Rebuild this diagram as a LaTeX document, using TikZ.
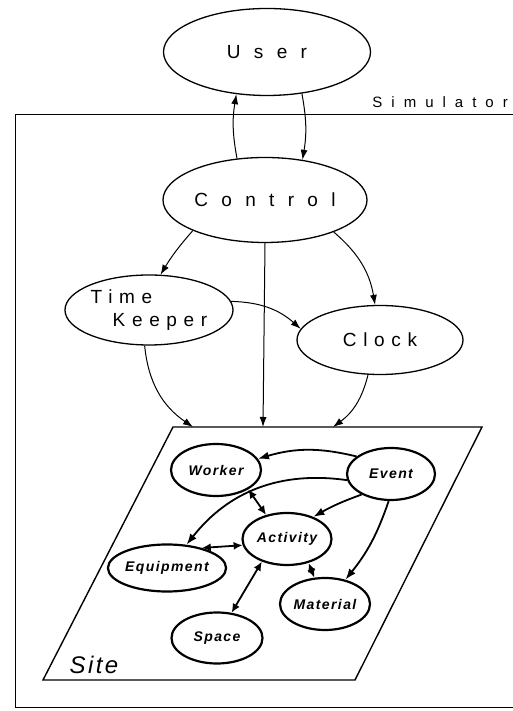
\documentclass[tikz,border=0pt]{standalone}
\usepackage{fontspec}
\setmainfont{Liberation Sans}
\newfontfamily\widefont[LetterSpace=70]{Liberation Sans}
\newfontfamily\plainfont[LetterSpace=35]{Liberation Sans}
\newfontfamily\simfont[LetterSpace=60]{Liberation Sans}
\newfontfamily\partfont[LetterSpace=10]{Liberation Sans}
\usetikzlibrary{shapes.geometric,arrows.meta}
\begin{document}
\begin{tikzpicture}[x=1pt,y=1pt,
	big/.style={shape=ellipse,draw,line width=1.3pt,inner sep=0pt,font=\fontsize{19}{23}\selectfont},
	part/.style={shape=ellipse,draw,line width=2.2pt,inner sep=0pt,minimum width=90pt,minimum height=52pt,font=\partfont\fontsize{14}{16}\selectfont\bfseries\itshape},
	link/.style={-{Latex[length=10pt,width=7pt]},line width=1pt},
	tie/.style={{Latex[length=9pt,width=8pt]}-{Latex[length=9pt,width=8pt]},line width=1.8pt},
	push/.style={-{Latex[length=11pt,width=8pt]},line width=1.8pt}]
	\useasboundingbox (0,0) rectangle (513,711);

	\draw[line width=1pt] (513,596) -- (15,596) -- (15,3) -- (513,3);
	\node[font=\simfont\fontsize{15}{18}\selectfont,anchor=base east,inner sep=0pt] (0) at (508,603) {Simulator};

	\coordinate (a) at (173,284);
	\coordinate (b) at (482,284);
	\coordinate (c) at (355,31);
	\coordinate (d) at (43,31);
	\draw[line width=1.4pt] (a) -- (b) -- (c) -- (d) -- cycle;
	\node[font=\partfont\fontsize{24}{28}\selectfont\itshape] (site) at (94,46) {Site};

	\node[big,minimum width=207pt,minimum height=87pt] (1) at (267,659) {\widefont User};
	\node[big,minimum width=204pt,minimum height=85pt] (2) at (265,511) {\widefont Control};
	\node[big,minimum width=168pt,minimum height=70pt,align=left] (3) at (149,401) {\plainfont Time\\\hspace{22pt}\plainfont Keeper};
	\node[big,minimum width=166pt,minimum height=69pt] (4) at (380,371) {\plainfont Clock};

	\node[part] (5) at (216,241) {Worker};
	\node[part,minimum width=88pt] (6) at (391,237) {Event};
	\node[part,minimum width=89pt] (7) at (287,172) {Activity};
	\node[part,minimum width=93pt,minimum height=47pt] (8) at (167,143) {Equipment};
	\node[part] (9) at (325,107) {Material};
	\node[part,minimum width=91pt,minimum height=51pt] (10) at (217,73) {Space};

	\coordinate (p) at (193,284);
	\coordinate (q) at (263,284);
	\coordinate (r) at (333,284);

	\draw (2.124) [link,bend left=10] to (1.234);
	\draw (1.310) [link,bend left=10] to (2.47);
	\draw (2.203) [link,bend right=5] to (3.72);
	\draw (2.335) [link,bend left=20] to (4.98);
	\draw (2.south) [link] -- (q);
	\draw (3.6) [link,bend left=20] to (4.172);
	\draw (3.263) [link,bend right=25] to (p);
	\draw (4.251) [link,bend left=20] to (r);

	\draw (6.153) [push,bend right=15] to (5.15);
	\draw (6.188) [push,bend right=30] to (8.50);
	\draw (6.215) [push,bend right=5] to (7.40);
	\draw (6.265) [push,bend left=10] to (9.50);
	\draw (5.329) [tie] -- (7.131);
	\draw (7.188) [tie] -- (8.30);
	\draw (7.222) [tie] -- (10.60);
	\draw (7.312) [tie] -- (9.112);
\end{tikzpicture}
\end{document}
